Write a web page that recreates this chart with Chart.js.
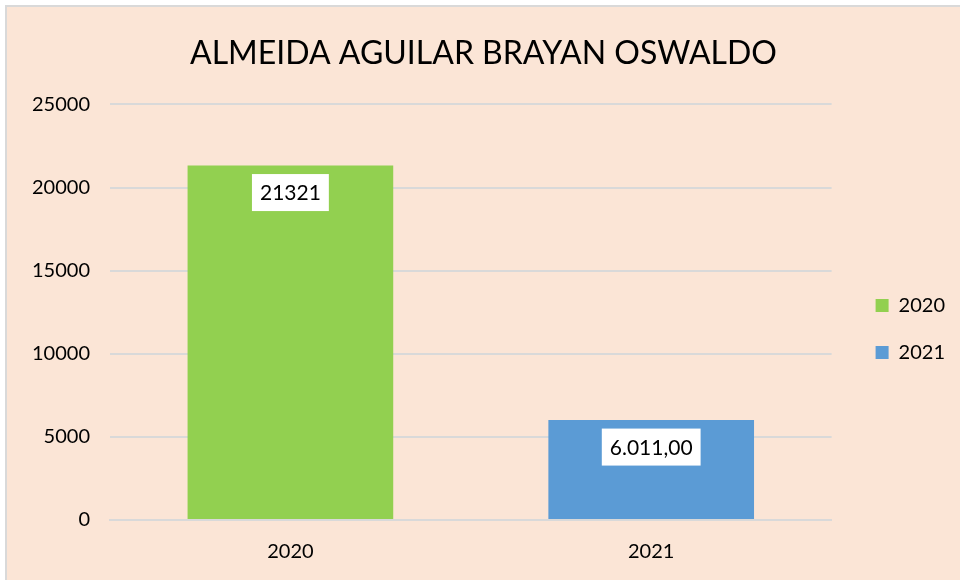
<!DOCTYPE html>
<html>
<head>
<meta charset="utf-8">
<title>ALMEIDA AGUILAR BRAYAN OSWALDO</title>
<script src="https://cdn.jsdelivr.net/npm/chart.js@4"></script>
<style>
    body { margin: 0; background: #ffffff; }
    #frame {
        position: absolute;
        left: 5px;
        top: 5px;
        width: 955px;
        height: 575px;
        background: #fbe5d6;
        border-left: 2px solid #d9d9d9;
        border-top: 2px solid #d9d9d9;
        box-sizing: border-box;
    }
</style>
</head>
<body>
<div id="frame"><canvas id="salesChart"></canvas></div>
<script>
const years = ['2020', '2021'];
const totals = [21321, 6011];
const labelDecimals = [0, 2];
const barColors = ['#92d050', '#5b9bd5'];
const yTicks = [0, 5000, 10000, 15000, 20000, 25000];

// 21321 -> "21321", 6011 with 2 decimals -> "6.011,00"
function formatValue(v, decimals) {
    if (!decimals) return String(v);
    const parts = v.toFixed(decimals).split('.');
    const whole = parts[0].replace(/\B(?=(\d{3})+(?!\d))/g, '.');
    return whole + ',' + parts[1];
}

const FONT = 'Lato';

// white boxes with the value, drawn just under the top of each bar
const valueBoxes = {
    id: 'valueBoxes',
    afterDatasetsDraw(chart) {
        const ctx = chart.ctx;
        const meta = chart.getDatasetMeta(0);
        ctx.save();
        ctx.font = '21px ' + FONT;
        ctx.textAlign = 'center';
        ctx.textBaseline = 'middle';
        meta.data.forEach((bar, i) => {
            const text = formatValue(totals[i], labelDecimals[i]);
            const w = ctx.measureText(text).width + 16;
            const h = 37;
            const cy = bar.y + 27;
            ctx.fillStyle = '#ffffff';
            ctx.fillRect(bar.x - w / 2, cy - h / 2, w, h);
            ctx.fillStyle = '#000000';
            ctx.fillText(text, bar.x, cy + 1);
        });
        ctx.restore();
    }
};

const ctx = document.getElementById('salesChart').getContext('2d');
window.salesChart = new Chart(ctx, {
    type: 'bar',
    data: {
        labels: years,
        datasets: [{
            label: 'Total',
            data: totals,
            backgroundColor: barColors,
            borderWidth: 0,
            categoryPercentage: 1,
            barPercentage: 0.57
        }]
    },
    options: {
        responsive: true,
        maintainAspectRatio: false,
        animation: false,
        layout: {
            padding: { left: 5, right: 5, top: 27, bottom: -4 }
        },
        plugins: {
            title: {
                display: true,
                text: 'ALMEIDA AGUILAR BRAYAN OSWALDO',
                color: '#000000',
                font: { family: FONT, size: 32, weight: 'normal' },
                padding: { top: 0, bottom: 32 }
            },
            legend: {
                position: 'right',
                align: 'center',
                title: {
                    display: true,
                    text: '',
                    font: { size: 10 },
                    padding: { top: 28, bottom: 0 }
                },
                labels: {
                    color: '#000000',
                    font: { family: FONT, size: 20 },
                    boxWidth: 13,
                    boxHeight: 13,
                    padding: 27,
                    // one legend entry per year, coloured like its bar
                    generateLabels: function(chart) {
                        return years.map((y, i) => ({
                            text: y,
                            fillStyle: barColors[i],
                            strokeStyle: barColors[i],
                            fontColor: '#000000',
                            lineWidth: 0,
                            hidden: false,
                            index: i
                        }));
                    }
                },
                onClick: null
            },
            tooltip: { enabled: false }
        },
        scales: {
            y: {
                min: 0,
                max: 25000,
                afterBuildTicks: function(axis) {
                    axis.ticks = yTicks.map(v => ({ value: v }));
                },
                ticks: {
                    color: '#000000',
                    font: { family: FONT, size: 20 },
                    padding: 20,
                    callback: function(value) {
                        return String(value);
                    }
                },
                grid: { color: '#d9d9d9', lineWidth: 2, drawTicks: false },
                border: { display: false }
            },
            // empty axis: keeps a gap between the plot and the legend
            gap: {
                position: 'right',
                display: true,
                ticks: { display: false },
                grid: { display: false, drawTicks: false },
                border: { display: false },
                afterFit: function(axis) {
                    axis.width = 17;
                }
            },
            x: {
                ticks: {
                    color: '#000000',
                    font: { family: FONT, size: 20 },
                    padding: 20
                },
                grid: { display: false, drawTicks: false },
                border: { color: '#d9d9d9', width: 2 }
            }
        }
    },
    plugins: [valueBoxes]
});
</script>
</body>
</html>
